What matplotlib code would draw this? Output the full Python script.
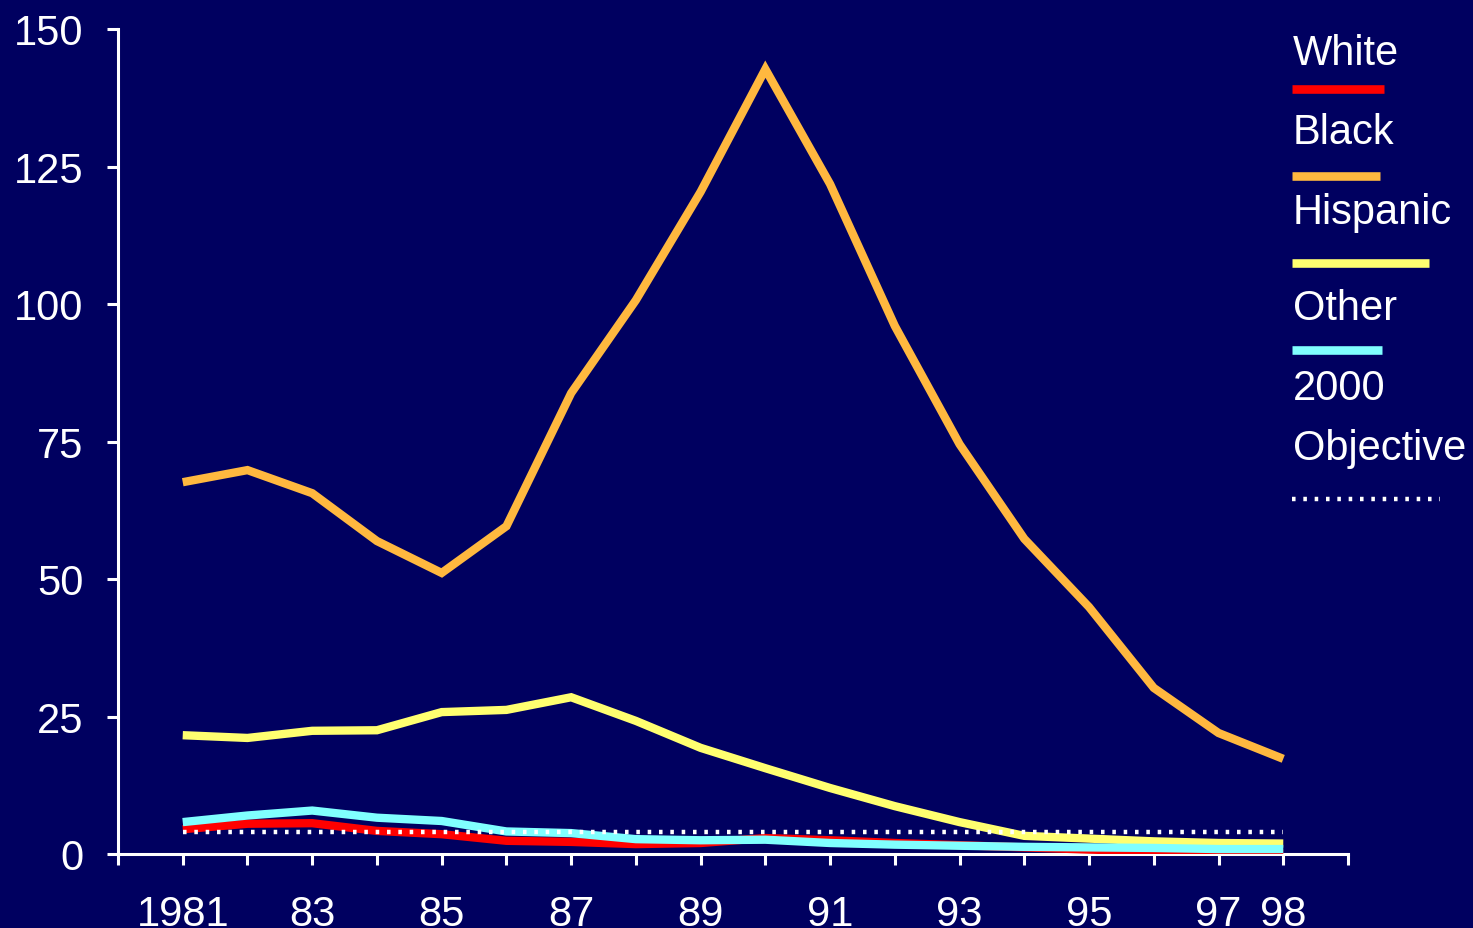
import matplotlib
matplotlib.use("Agg")
import matplotlib.pyplot as plt
from matplotlib.lines import Line2D

# data
years = list(range(1981, 1999))
white = [4.5, 5.5, 5.6, 4.2, 3.6, 2.4, 2.2, 1.8, 2.0, 2.9, 2.5, 2.0, 1.6, 1.2, 0.8, 0.5, 0.2, 0.1]
black = [67.6, 69.8, 65.6, 56.9, 51.1, 59.6, 83.8, 100.7, 120.4, 142.7,
         121.8, 96.0, 74.5, 57.3, 44.9, 30.2, 22.0, 17.3]
hispanic = [21.6, 21.1, 22.4, 22.5, 25.8, 26.2, 28.5, 24.2, 19.3, 15.6,
            12.0, 8.7, 5.8, 3.3, 2.8, 2.3, 2.0, 1.9]
other = [5.8, 7.0, 7.9, 6.6, 6.0, 4.1, 3.8, 2.7, 2.5, 2.6, 2.0, 1.7, 1.5, 1.3, 1.2, 1.1, 0.9, 0.9]
objective = 4.0

xtick_years = list(range(1980, 2000))
xtick_text = {1981: "1981", 1983: "83", 1985: "85", 1987: "87", 1989: "89",
              1991: "91", 1993: "93", 1995: "95", 1997: "97", 1998: "98"}
yticks = [0, 25, 50, 75, 100, 125, 150]

BG = "#000060"
RED = "#FF0000"
ORANGE = "#FFB83F"
YELLOW = "#FFFF70"
CYAN = "#80FFFF"
FS = 30
DOTS = (0, (0.8, 1.75))

plt.rcParams['font.family'] = ['Liberation Sans', 'DejaVu Sans']

W, H = 1473, 929
fig = plt.figure(figsize=(W / 100, H / 100), dpi=100, facecolor=BG)
ax = fig.add_axes([118 / W, 1 - 855 / H, (1348 - 118) / W, (855 - 30) / H])
ax.set_facecolor(BG)

lw = 6
for series, col in ((white, RED), (black, ORANGE), (hispanic, YELLOW), (other, CYAN)):
    ax.plot(years, series, color=col, lw=lw, solid_joinstyle='miter',
            solid_capstyle='butt', zorder=3)
ax.plot([years[0], years[-1]], [objective, objective], color="white", lw=3.2,
        linestyle=DOTS, zorder=4)

ax.set_xlim(1980, 1999)
ax.set_ylim(0, 150)
ax.set_xticks(xtick_years)
ax.set_xticklabels([xtick_text.get(y, "") for y in xtick_years])
ax.set_yticks(yticks)
ax.set_yticklabels([str(v) for v in yticks])

for side in ("top", "right"):
    ax.spines[side].set_visible(False)
for side in ("left", "bottom"):
    ax.spines[side].set_color("white")
    ax.spines[side].set_linewidth(2.2)
ax.tick_params(axis="both", colors="white", width=2.2, length=8, direction="out",
               labelsize=FS)
ax.tick_params(axis="x", pad=21)
ax.tick_params(axis="y", pad=17)

# legend drawn by hand at the right
lx = 1293 / W
entries = [("White", 65, RED, 89.5, 1384),
           ("Black", 144, ORANGE, 177, 1380),
           ("Hispanic", 224, YELLOW, 263.5, 1429),
           ("Other", 320, CYAN, 350.5, 1382)]
for name, base, col, ly, xend in entries:
    fig.text(lx, 1 - base / H, name, color="white", fontsize=FS, va="baseline", ha="left")
    fig.add_artist(Line2D([1292 / W, xend / W], [1 - ly / H, 1 - ly / H],
                          color=col, lw=6.2, solid_capstyle="butt"))
fig.text(lx, 1 - 400 / H, "2000", color="white", fontsize=FS, va="baseline", ha="left")
fig.text(lx, 1 - 460 / H, "Objective", color="white", fontsize=FS, va="baseline", ha="left")
fig.add_artist(Line2D([1292 / W, 1440 / W], [1 - 500 / H, 1 - 500 / H],
                      color="white", lw=3.2, linestyle=DOTS))

fig.savefig("out.png", dpi=100, facecolor=BG)
